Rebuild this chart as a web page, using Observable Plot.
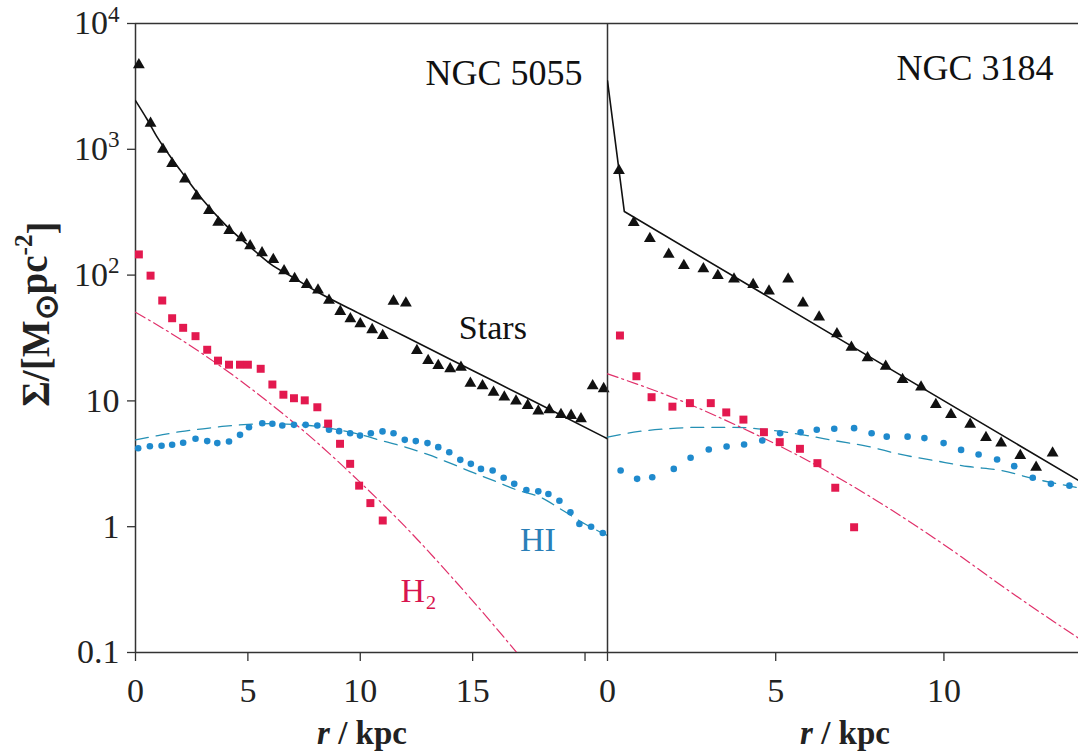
<!DOCTYPE html>
<html><head><meta charset="utf-8">
<script src="https://cdn.jsdelivr.net/npm/d3@7"></script>
<script src="https://cdn.jsdelivr.net/npm/@observablehq/plot@0.6"></script>
<style>
body{margin:0;background:#fff;}
#wrap{position:relative;width:1078px;height:756px;overflow:hidden;background:#fff;}
#wrap svg{position:absolute;top:0;overflow:visible;}
</style></head><body><div id="wrap"></div>
<script>
// ---- tick values and labels ----
const yTicks = [0.1, 1, 10, 100, 1000, 10000];
const yTickLabels = ["0.1", "1", "10", "10^2", "10^3", "10^4"];
const leftXTicks = [0, 5, 10, 15, 20];
const leftXTickLabels = ["0", "5", "10", "15", ""];
const rightXTicks = [0, 5, 10];
const rightXTickLabels = ["0", "5", "10"];

// ---- NGC 5055 ----
const n5055StarsR = [0.15,0.67,1.22,1.63,2.2,2.72,3.27,3.68,4.17,4.71,5.1,5.63,6.13,6.61,7.08,7.62,8.12,8.61,9.11,9.56,10.0,10.53,11.0,11.48,12.03,12.52,13.02,13.47,14.0,14.48,14.9,15.44,15.93,16.41,16.93,17.45,17.92,18.41,18.93,19.38,19.82,20.34,20.83];
const n5055StarsV = [4700,1610,1000,770,580,425,326,263,226,198,171,150,133,108,94,84,76,63,51.4,45,41,36.8,33,62,60,25.1,20.9,19.1,18,18.5,13.8,13.2,11.7,10.7,9.95,9.2,8.3,8.5,7.8,7.66,7.2,13.2,12.5];
const n5055StarsModelR = [0,0.5,1,1.5,2,3,4,5,6,7,8,10,12,14,16,18,21];
const n5055StarsModelV = [2440,1750,1220,900,680,395,251,174,123,96,75,49,32.5,21.4,14.2,9.35,5.0];
const n5055H2R = [0.15,0.67,1.19,1.63,2.12,2.67,3.19,3.67,4.16,4.65,5.0,5.57,6.09,6.58,7.05,7.53,8.09,8.57,9.1,9.55,9.95,10.45,11.0];
const n5055H2V = [146,99,62.8,45.4,38.1,32.7,25.5,20.9,19.4,19.4,19.4,18,13.5,11.2,10.5,10.1,8.9,6.6,4.56,3.16,2.12,1.54,1.12];
const n5055H2ModelR = [0,2,4,6,8,10,12,14,16,16.96];
const n5055H2ModelV = [50.7,30.9,17.7,9.5,4.8,2.25,1.0,0.41,0.16,0.1];
const n5055HIR = [0.12,0.64,1.16,1.63,2.12,2.67,3.19,3.64,4.16,4.65,5.05,5.64,6.09,6.53,7.05,7.57,8.09,8.61,9.06,9.55,9.99,10.47,10.99,11.48,11.98,12.47,12.99,13.47,13.96,14.45,14.92,15.37,15.89,16.38,16.85,17.39,17.92,18.37,18.86,19.35,19.75,20.27,20.79];
const n5055HIV = [4.2,4.36,4.4,4.48,4.65,5.0,4.79,4.62,4.76,5.37,6.18,6.65,6.58,6.37,6.45,6.45,6.37,5.89,5.75,5.53,5.3,5.53,5.72,5.53,4.9,4.79,4.62,4.29,3.91,3.4,3.16,2.88,2.8,2.45,2.19,1.96,1.91,1.82,1.61,1.3,1.05,1.0,0.89];
const n5055HIModelR = [0,1,2,3,4,5,6,7,8,9,10,11,12,13,14,15,16,17,18,19,20,21];
const n5055HIModelV = [4.9,5.3,5.7,6.0,6.3,6.5,6.6,6.5,6.3,5.9,5.4,4.8,4.3,3.75,3.2,2.7,2.3,1.95,1.72,1.35,1.05,0.85];

// ---- NGC 3184 ----
const n3184StarsR = [0.34,0.78,1.26,1.82,2.27,2.85,3.28,3.76,4.33,4.8,5.37,5.81,6.29,6.82,7.25,7.73,8.27,8.77,9.32,9.76,10.21,10.78,11.25,11.7,12.27,12.74,13.23];
const n3184StarsV = [678,261,195,146,119,112,99,93,84,74.5,93,60,46.3,34.1,26.7,22,18.8,14.8,12.9,9.35,7.8,6.5,5.1,4.62,3.68,2.97,3.84];
const n3184StarsModelR = [0,0.5,14];
const n3184StarsModelV = [3500,320,2.33];
const n3184H2R = [0.37,0.86,1.31,1.93,2.45,3.07,3.53,4.04,4.65,5.12,5.72,6.24,6.77,7.33];
const n3184H2V = [33.1,15.7,10.7,9.0,9.6,9.6,8.1,7.1,5.64,4.7,4.16,3.2,2.04,0.99];
const n3184H2ModelR = [0,2,4,6,8,10,12,14];
const n3184H2ModelV = [16.4,10.5,6.1,3.3,1.61,0.72,0.30,0.13];
const n3184HIR = [0.39,0.88,1.33,1.97,2.47,3.01,3.54,4.06,4.6,5.13,5.74,6.22,6.74,7.33,7.85,8.3,8.92,9.42,9.99,10.51,11.03,11.58,12.09,12.64,13.18,13.73];
const n3184HIV = [2.8,2.4,2.47,2.88,3.53,4.11,4.34,4.5,4.84,5.53,5.64,5.89,6.0,6.07,5.53,5.2,5.2,5.06,4.62,4.08,3.75,3.42,3.03,2.45,2.19,2.12];
const n3184HIModelR = [0,0.78,1.78,2.77,3.76,4.75,5.94,6.74,7.73,8.72,9.71,10.71,11.7,12.69,14];
const n3184HIModelV = [5.15,5.64,6.0,6.17,6.17,5.9,5.3,4.84,4.35,3.75,3.36,3.01,2.8,2.4,2.04];

// ---- annotation texts ----
const galaxyNames = ["NGC 5055", "NGC 3184"];
const seriesLabels = ["Stars", "H₂", "HI"];
const seriesLabelR = [15.9, 12.6, 17.9];
const seriesLabelV = [38, 0.31, 0.78];

// ---- styling ----
const SERIF = '"Liberation Serif","Times New Roman",serif';
const C_STAR = "#111";
const C_H2 = "#e3194f";
const C_H2LINE = "#e0306a";
const C_HI = "#1f8acd";
const C_HILINE = "#2590b4";
const C_HILABEL = "#2a7fb8";
const FRAME = "#333";

const rows = (rs, vs) => rs.map((r, i) => ({r, v: vs[i]}));
const fmtFrom = (ticks, labels) => d => labels[ticks.indexOf(d)];

function dataMarks(g) {
  return [
    Plot.line(rows(g.hiModelR, g.hiModelV), {x:"r", y:"v", stroke:C_HILINE, strokeWidth:1.3, strokeDasharray:"13,8", curve:"monotone-x", clip:true}),
    Plot.line(rows(g.h2ModelR, g.h2ModelV), {x:"r", y:"v", stroke:C_H2LINE, strokeWidth:1.2, strokeDasharray:"11,4,2,4", curve:"monotone-x", clip:true}),
    Plot.line(rows(g.starModelR, g.starModelV), {x:"r", y:"v", stroke:C_STAR, strokeWidth:1.6, curve:g.starCurve, clip:true}),
    Plot.dot(rows(g.hiR, g.hiV), {x:"r", y:"v", r:3.3, fill:C_HI, stroke:"none"}),
    Plot.dot(rows(g.h2R, g.h2V), {x:"r", y:"v", symbol:"square", r:4.5, fill:C_H2, stroke:"none"}),
    Plot.dot(rows(g.starR, g.starV), {x:"r", y:"v", symbol:"triangle", r:4.4, fill:C_STAR, stroke:"none"})
  ];
}

const common = {
  height: 756, marginTop: 23, marginBottom: 104,
  style: {fontFamily: SERIF, fontSize:"34px", color:"#222", background:"transparent", overflow:"visible"}
};

const left = Plot.plot({
  ...common,
  width: 620, marginLeft: 135, marginRight: 13,
  x: {domain:[0, 21], axis:null},
  y: {type:"log", domain:[0.1, 1e4], axis:null},
  marks: [
    Plot.ruleY([1e4], {stroke:FRAME, strokeWidth:1.5}),
    Plot.ruleY([0.1], {stroke:FRAME, strokeWidth:1.5}),
    Plot.ruleX([0], {stroke:FRAME, strokeWidth:1.5}),
    Plot.axisY(yTicks, {anchor:"left", tickSize:8, tickPadding:8, tickFormat:fmtFrom(yTicks, yTickLabels), label:null, stroke:FRAME, strokeWidth:1.3}),
    Plot.axisX(leftXTicks, {anchor:"bottom", tickSize:9, tickPadding:16, tickFormat:fmtFrom(leftXTicks, leftXTickLabels), label:null, stroke:FRAME, strokeWidth:1.3}),
    ...dataMarks({
      starR:n5055StarsR, starV:n5055StarsV, starModelR:n5055StarsModelR, starModelV:n5055StarsModelV, starCurve:"monotone-x",
      h2R:n5055H2R, h2V:n5055H2V, h2ModelR:n5055H2ModelR, h2ModelV:n5055H2ModelV,
      hiR:n5055HIR, hiV:n5055HIV, hiModelR:n5055HIModelR, hiModelV:n5055HIModelV
    }),
    Plot.text([galaxyNames[0]], {frameAnchor:"top-right", dx:-25, dy:50, text:d=>d, textAnchor:"end", lineAnchor:"middle", fontSize:36, fill:"#111"}),
    Plot.text([0], {x:()=>seriesLabelR[0], y:()=>seriesLabelV[0], text:()=>seriesLabels[0], fontSize:34, fill:"#111"}),
    Plot.text([1], {x:()=>seriesLabelR[1], y:()=>seriesLabelV[1], text:()=>seriesLabels[1], fontSize:34, fill:"#d8154e"}),
    Plot.text([2], {x:()=>seriesLabelR[2], y:()=>seriesLabelV[2], text:()=>seriesLabels[2], fontSize:34, fill:C_HILABEL})
  ]
});

const right = Plot.plot({
  ...common,
  width: 471, marginLeft: 0, marginRight: 0,
  x: {domain:[0, 14], axis:null},
  y: {type:"log", domain:[0.1, 1e4], axis:null},
  marks: [
    Plot.ruleY([1e4], {stroke:FRAME, strokeWidth:1.5}),
    Plot.ruleY([0.1], {stroke:FRAME, strokeWidth:1.5}),
    Plot.ruleX([0], {stroke:FRAME, strokeWidth:1.5}),
    Plot.axisX(rightXTicks, {anchor:"bottom", tickSize:9, tickPadding:16, tickFormat:fmtFrom(rightXTicks, rightXTickLabels), label:null, stroke:FRAME, strokeWidth:1.3}),
    ...dataMarks({
      starR:n3184StarsR, starV:n3184StarsV, starModelR:n3184StarsModelR, starModelV:n3184StarsModelV, starCurve:"linear",
      h2R:n3184H2R, h2V:n3184H2V, h2ModelR:n3184H2ModelR, h2ModelV:n3184H2ModelV,
      hiR:n3184HIR, hiV:n3184HIV, hiModelR:n3184HIModelR, hiModelV:n3184HIModelV
    }),
    Plot.text([galaxyNames[1]], {frameAnchor:"top-right", dx:-25, dy:45, text:d=>d, textAnchor:"end", lineAnchor:"middle", fontSize:36, fill:"#111"})
  ]
});

const wrap = document.getElementById("wrap");
left.style.left = "0px";
right.style.left = "607px";
wrap.appendChild(left);
wrap.appendChild(right);

// superscripts in y tick labels
left.querySelectorAll('g[aria-label="y-axis tick label"] text').forEach(t => {
  const s = t.textContent;
  if (s.includes("^")) {
    const [base, exp] = s.split("^");
    t.textContent = base;
    const ts = document.createElementNS("http://www.w3.org/2000/svg", "tspan");
    ts.setAttribute("dy", "-0.55em");
    ts.setAttribute("font-size", "0.68em");
    ts.textContent = exp;
    t.appendChild(ts);
  }
});

// y-axis title
const yt = d3.select(left).append("text")
  .attr("transform", "translate(49,314) rotate(-90)")
  .attr("text-anchor", "middle")
  .attr("font-family", SERIF).attr("font-weight", "bold").attr("font-size", 39).attr("fill", "#222");
yt.append("tspan").text("Σ/[M");
yt.append("tspan").attr("dy", "0.25em").attr("font-size", "0.8em").text("⊙");
yt.append("tspan").attr("dy", "-0.25em").text("pc");
yt.append("tspan").attr("dy", "-0.6em").attr("font-size", "0.65em").text("-2");
yt.append("tspan").attr("dy", "0.6em").text("]");

// x-axis titles
function xTitle(svg, cx) {
  const t = d3.select(svg).append("text")
    .attr("x", cx).attr("y", 744)
    .attr("text-anchor", "middle")
    .attr("font-family", SERIF).attr("font-weight", "bold").attr("font-size", 33).attr("fill", "#222");
  t.append("tspan").attr("font-style", "italic").text("r");
  t.append("tspan").text(" / kpc");
}
xTitle(left, 362);
xTitle(right, 238);
</script>
</body></html>
